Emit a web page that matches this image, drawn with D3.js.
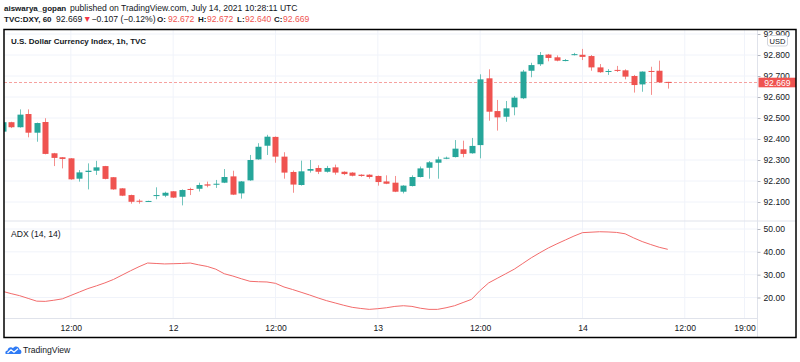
<!DOCTYPE html>
<html>
<head>
<meta charset="utf-8">
<script src="https://cdn.jsdelivr.net/npm/d3@7"></script>
<style>
  body { margin: 0; background: #fff; }
  svg { display: block; font-family: "Liberation Sans", Arial, sans-serif; }
</style>
</head>
<body>
<div id="chart"></div>
<script>
var svgWidth = 800;
var svgHeight = 362;

// hourly bars, first one is 2021-07-11 04:00 UTC
var startTime = Date.UTC(2021, 6, 11, 4);

var open = [92.435, 92.480, 92.456, 92.519, 92.430, 92.481, 92.332, 92.313, 92.308, 92.211,
  92.243, 92.249, 92.271, 92.218, 92.165, 92.133, 92.106, 92.104, 92.130, 92.130,
  92.151, 92.125, 92.162, 92.163, 92.184, 92.186, 92.192, 92.222, 92.141, 92.203,
  92.303, 92.368, 92.410, 92.316, 92.243, 92.181, 92.249, 92.262, 92.244, 92.265,
  92.244, 92.240, 92.230, 92.230, 92.224, 92.198, 92.192, 92.149, 92.176, 92.219,
  92.263, 92.287, 92.306, 92.314, 92.351, 92.332, 92.371, 92.689, 92.533, 92.506,
  92.551, 92.594, 92.725, 92.756, 92.802, 92.789, 92.773, 92.802, 92.801, 92.795,
  92.741, 92.721, 92.729, 92.727, 92.700, 92.660, 92.724, 92.725, 92.672];
var high = [92.482, 92.482, 92.541, 92.541, 92.478, 92.499, 92.334, 92.314, 92.309, 92.252,
  92.284, 92.296, 92.272, 92.219, 92.166, 92.135, 92.113, 92.106, 92.170, 92.149,
  92.152, 92.160, 92.168, 92.192, 92.197, 92.205, 92.257, 92.249, 92.200, 92.324,
  92.380, 92.420, 92.412, 92.337, 92.250, 92.297, 92.300, 92.275, 92.272, 92.278,
  92.246, 92.242, 92.232, 92.232, 92.226, 92.227, 92.224, 92.180, 92.227, 92.269,
  92.295, 92.316, 92.316, 92.395, 92.392, 92.405, 92.708, 92.732, 92.586, 92.581,
  92.605, 92.729, 92.763, 92.814, 92.805, 92.798, 92.781, 92.810, 92.829, 92.800,
  92.757, 92.733, 92.748, 92.732, 92.705, 92.722, 92.744, 92.773, 92.672];
var low = [92.432, 92.452, 92.454, 92.408, 92.387, 92.327, 92.271, 92.260, 92.206, 92.197,
  92.160, 92.229, 92.208, 92.158, 92.128, 92.092, 92.092, 92.102, 92.113, 92.123,
  92.119, 92.084, 92.133, 92.150, 92.170, 92.167, 92.190, 92.133, 92.116, 92.201,
  92.301, 92.324, 92.287, 92.211, 92.144, 92.178, 92.240, 92.233, 92.240, 92.230,
  92.228, 92.222, 92.220, 92.211, 92.178, 92.185, 92.147, 92.141, 92.174, 92.217,
  92.211, 92.211, 92.304, 92.312, 92.313, 92.330, 92.308, 92.487, 92.440, 92.482,
  92.513, 92.590, 92.694, 92.748, 92.770, 92.770, 92.770, 92.798, 92.776, 92.725,
  92.715, 92.705, 92.719, 92.684, 92.621, 92.625, 92.610, 92.668, 92.640];
var close = [92.480, 92.456, 92.516, 92.430, 92.476, 92.329, 92.310, 92.305, 92.208, 92.241,
  92.249, 92.265, 92.210, 92.160, 92.130, 92.101, 92.103, 92.105, 92.133, 92.144,
  92.121, 92.157, 92.159, 92.181, 92.178, 92.187, 92.219, 92.135, 92.198, 92.300,
  92.363, 92.411, 92.316, 92.240, 92.183, 92.246, 92.257, 92.244, 92.262, 92.240,
  92.233, 92.225, 92.224, 92.219, 92.195, 92.187, 92.149, 92.178, 92.219, 92.260,
  92.289, 92.303, 92.311, 92.354, 92.329, 92.367, 92.684, 92.530, 92.503, 92.546,
  92.597, 92.721, 92.752, 92.800, 92.786, 92.773, 92.776, 92.804, 92.791, 92.741,
  92.718, 92.724, 92.726, 92.697, 92.657, 92.721, 92.721, 92.670, 92.669];

// ADX (14, 14)
var adx = [22.7, 21.7, 20.8, 19.6, 18.4, 18.3, 18.8, 19.4, 20.9, 22.4,
  23.9, 25.1, 26.4, 27.9, 29.8, 31.7, 33.5, 35.1, 34.9, 34.7,
  34.8, 34.9, 35.1, 34.3, 33.6, 32.4, 30.4, 29.4, 28.2, 27.1,
  26.9, 26.8, 26.2, 24.6, 23.5, 22.3, 21.1, 19.8, 18.6, 17.6,
  16.6, 15.7, 15.2, 14.8, 15.1, 15.5, 16.1, 16.4, 16.1, 15.3,
  14.8, 14.8, 15.5, 16.4, 17.8, 19.2, 23.1, 26.4, 28.4, 30.4,
  32.4, 34.9, 37.4, 39.6, 41.7, 43.5, 45.2, 46.9, 48.4, 48.6,
  48.8, 48.7, 48.5, 47.9, 46.1, 44.5, 43.2, 42.0, 41.1];

var priceTicks = [92.1, 92.2, 92.3, 92.4, 92.5, 92.6, 92.7, 92.8, 92.9];
var adxTicks = [20, 30, 40, 50];
var timeTicks = [Date.UTC(2021, 6, 11, 12), Date.UTC(2021, 6, 12, 0), Date.UTC(2021, 6, 12, 12),
  Date.UTC(2021, 6, 13, 0), Date.UTC(2021, 6, 13, 12), Date.UTC(2021, 6, 14, 0),
  Date.UTC(2021, 6, 14, 12), Date.UTC(2021, 6, 14, 19)];
var timeLabels = ["12:00", "12", "12:00", "13", "12:00", "14", "12:00", "19:00"];

var lastPrice = 92.669;

var bars = open.map(function (o, i) {
  return { t: new Date(startTime + i * 3600000), o: o, h: high[i], l: low[i], c: close[i], adx: adx[i] };
});

// frame layout
var frame = { left: 4, right: 796, top: 29.5, bottom: 337.5 };
var axisX = 757.5;
var paneSplit = 221;
var xAxisY = 318.5;

var upColor = "#26a69a";
var downColor = "#ef5350";
var gridColor = "#f0f3fa";
var textColor = "#131722";
var fontFamily = "\"Liberation Sans\", Arial, sans-serif";

var svg = d3.select("#chart")
  .append("svg")
  .attr("width", svgWidth)
  .attr("height", svgHeight);

var x = d3.scaleUtc()
  .domain([new Date(startTime), new Date(Date.UTC(2021, 6, 14, 19))])
  .range([2.6, 744.5]);

var yPrice = d3.scaleLinear().domain([92.1, 92.8]).range([202, 55]);
var yAdx = d3.scaleLinear().domain([20, 50]).range([297.5, 229]);

// clip paths
var defs = svg.append("defs");
defs.append("clipPath").attr("id", "clipPrice")
  .append("rect").attr("x", frame.left).attr("y", frame.top)
  .attr("width", axisX - frame.left).attr("height", paneSplit - frame.top);
defs.append("clipPath").attr("id", "clipAdx")
  .append("rect").attr("x", frame.left).attr("y", paneSplit)
  .attr("width", axisX - frame.left).attr("height", xAxisY - paneSplit);
defs.append("clipPath").attr("id", "clipAxis")
  .append("rect").attr("x", axisX).attr("y", frame.top)
  .attr("width", frame.right - axisX).attr("height", paneSplit - frame.top);

// header
var head1 = svg.append("text").attr("y", 11).attr("font-size", "8.6px").attr("fill", textColor);
head1.append("tspan").attr("x", 4).attr("font-weight", "bold").attr("font-size", "8px").text("aiswarya_gopan");
head1.append("tspan").attr("x", 70).text("published on TradingView.com, July 14, 2021 10:28:11 UTC");

var head2 = svg.append("g").attr("font-size", "8.6px");
var headParts = [
  { x: 4, t: "TVC:DXY, 60", b: true, c: textColor },
  { x: 56, t: "92.669", b: false, c: textColor },
  { x: 83, t: "\u25BC", b: false, c: "#f23645" },
  { x: 91.5, t: "\u22120.107 (\u22120.12%)", b: false, c: textColor },
  { x: 157, t: "O:", b: true, c: textColor },
  { x: 168, t: "92.672", b: false, c: downColor },
  { x: 198, t: "H:", b: true, c: textColor },
  { x: 207, t: "92.672", b: false, c: downColor },
  { x: 237, t: "L:", b: true, c: textColor },
  { x: 245, t: "92.640", b: false, c: downColor },
  { x: 274, t: "C:", b: true, c: textColor },
  { x: 283, t: "92.669", b: false, c: downColor }
];
head2.selectAll("text").data(headParts).enter().append("text")
  .attr("x", function (d) { return d.x; })
  .attr("y", 22)
  .attr("font-weight", function (d) { return d.b ? "bold" : "normal"; })
  .attr("font-size", function (d) { return d.b ? "8px" : "8.6px"; })
  .attr("fill", function (d) { return d.c; })
  .text(function (d) { return d.t; });

// grid
var grid = svg.append("g");
grid.selectAll("line.v").data(timeTicks).enter().append("line")
  .attr("x1", function (d) { return x(d); }).attr("x2", function (d) { return x(d); })
  .attr("y1", frame.top).attr("y2", xAxisY)
  .attr("stroke", gridColor).attr("stroke-width", 1);
grid.append("g").attr("clip-path", "url(#clipPrice)")
  .selectAll("line").data(priceTicks).enter().append("line")
  .attr("x1", frame.left).attr("x2", axisX)
  .attr("y1", function (d) { return yPrice(d); }).attr("y2", function (d) { return yPrice(d); })
  .attr("stroke", gridColor);
grid.selectAll("line.a").data(adxTicks).enter().append("line")
  .attr("x1", frame.left).attr("x2", axisX)
  .attr("y1", function (d) { return yAdx(d); }).attr("y2", function (d) { return yAdx(d); })
  .attr("stroke", gridColor);

// pane separators
svg.append("line").attr("x1", frame.left).attr("x2", frame.right)
  .attr("y1", paneSplit).attr("y2", paneSplit).attr("stroke", "#e0e3eb");
svg.append("line").attr("x1", frame.left).attr("x2", axisX)
  .attr("y1", xAxisY).attr("y2", xAxisY).attr("stroke", "#e0e3eb");
svg.append("line").attr("x1", axisX).attr("x2", axisX)
  .attr("y1", frame.top).attr("y2", frame.bottom).attr("stroke", "#e0e3eb");

// last price line
svg.append("line")
  .attr("x1", frame.left).attr("x2", axisX)
  .attr("y1", yPrice(lastPrice)).attr("y2", yPrice(lastPrice))
  .attr("stroke", downColor).attr("stroke-opacity", 0.55)
  .attr("stroke-dasharray", "3,2");

// candles
var candleG = svg.append("g").attr("clip-path", "url(#clipPrice)");
var candles = candleG.selectAll("g").data(bars).enter().append("g");

candles.append("line")
  .attr("x1", function (d) { return Math.round(x(d.t)) + 0.5; })
  .attr("x2", function (d) { return Math.round(x(d.t)) + 0.5; })
  .attr("y1", function (d) { return yPrice(d.h); })
  .attr("y2", function (d) { return yPrice(d.l); })
  .attr("stroke", function (d) { return d.c >= d.o ? upColor : downColor; })
  .attr("stroke-opacity", 0.65);

candles.append("rect")
  .attr("x", function (d) { return Math.round(x(d.t)) - 2.5; })
  .attr("width", 6)
  .attr("y", function (d) { return yPrice(Math.max(d.o, d.c)); })
  .attr("height", function (d) { return Math.max(1, Math.abs(yPrice(d.o) - yPrice(d.c))); })
  .attr("fill", function (d) { return d.c >= d.o ? upColor : downColor; });

// price axis
var priceAxis = svg.append("g")
  .attr("clip-path", "url(#clipAxis)")
  .append("g")
  .attr("transform", "translate(" + axisX + ",0)")
  .call(d3.axisRight(yPrice).tickValues(priceTicks).tickFormat(d3.format(".3f")).tickSize(3).tickPadding(3));
priceAxis.select(".domain").remove();
priceAxis.selectAll("line").attr("stroke", "#b2b5be");
priceAxis.selectAll("text").attr("fill", textColor).attr("font-size", "8.6px")
  .attr("font-family", fontFamily);

// USD box
svg.append("rect").attr("x", 767.5).attr("y", 35.5).attr("width", 20).attr("height", 10.5)
  .attr("rx", 2).attr("fill", "#fff").attr("stroke", "#d1d4dc");
svg.append("text").attr("x", 777.5).attr("y", 43.5).attr("text-anchor", "middle")
  .attr("font-size", "7.5px").attr("fill", textColor).text("USD");

// last price label
svg.append("rect").attr("x", axisX + 1).attr("y", yPrice(lastPrice) - 4.8)
  .attr("width", frame.right - axisX - 1).attr("height", 9.6).attr("fill", downColor);
svg.append("text").attr("x", 777.5).attr("y", yPrice(lastPrice) + 3.1)
  .attr("text-anchor", "middle").attr("font-size", "8.6px").attr("fill", "#fff")
  .text(d3.format(".3f")(lastPrice));

// ADX pane
var adxLine = d3.line()
  .x(function (d) { return x(d.t); })
  .y(function (d) { return yAdx(d.adx); });
svg.append("path").datum(bars)
  .attr("clip-path", "url(#clipAdx)")
  .attr("d", adxLine)
  .attr("fill", "none")
  .attr("stroke", "#f26b6b")
  .attr("stroke-width", 1);

var adxAxis = svg.append("g")
  .attr("transform", "translate(" + axisX + ",0)")
  .call(d3.axisRight(yAdx).tickValues(adxTicks).tickFormat(d3.format(".2f")).tickSize(3).tickPadding(3));
adxAxis.select(".domain").remove();
adxAxis.selectAll("line").attr("stroke", "#b2b5be");
adxAxis.selectAll("text").attr("fill", textColor).attr("font-size", "8.6px")
  .attr("font-family", fontFamily);

svg.append("text").attr("x", 11).attr("y", 237).attr("font-size", "8.6px")
  .attr("fill", textColor).text("ADX (14, 14)");

// time axis
var timeAxis = svg.append("g")
  .attr("transform", "translate(0," + xAxisY + ")")
  .call(d3.axisBottom(x).tickValues(timeTicks.map(function (d) { return new Date(d); }))
    .tickFormat(function (d, i) { return timeLabels[i]; }).tickSize(0).tickPadding(6));
timeAxis.select(".domain").remove();
timeAxis.selectAll("text").attr("fill", textColor).attr("font-size", "8.6px")
  .attr("font-family", fontFamily);

// title
svg.append("text").attr("x", 11).attr("y", 43.5).attr("font-size", "8px")
  .attr("font-weight", "bold").attr("fill", textColor)
  .text("U.S. Dollar Currency Index, 1h, TVC");

// frame
svg.append("rect")
  .attr("x", frame.left).attr("y", frame.top)
  .attr("width", frame.right - frame.left).attr("height", frame.bottom - frame.top)
  .attr("fill", "none").attr("stroke", "#000").attr("stroke-width", 1.5);

// TradingView mark
var logo = svg.append("g").attr("transform", "translate(5,345)");
logo.append("path")
  .attr("d", "M1,9 C0,9 0,5.5 2.5,5.5 C3,2.5 6,1.5 8,3.2 C9.5,0.5 14,1 14.5,4.5 C17,4.8 17,9 15,9 Z")
  .attr("fill", "#2f7bf5");
logo.append("polyline")
  .attr("points", "2.5,8 6,4.8 9,7.2 13,3.8")
  .attr("fill", "none").attr("stroke", "#fff").attr("stroke-width", 1.2);
svg.append("text").attr("x", 23).attr("y", 353).attr("font-size", "8.6px")
  .attr("fill", textColor).text("TradingView");
</script>
</body>
</html>
